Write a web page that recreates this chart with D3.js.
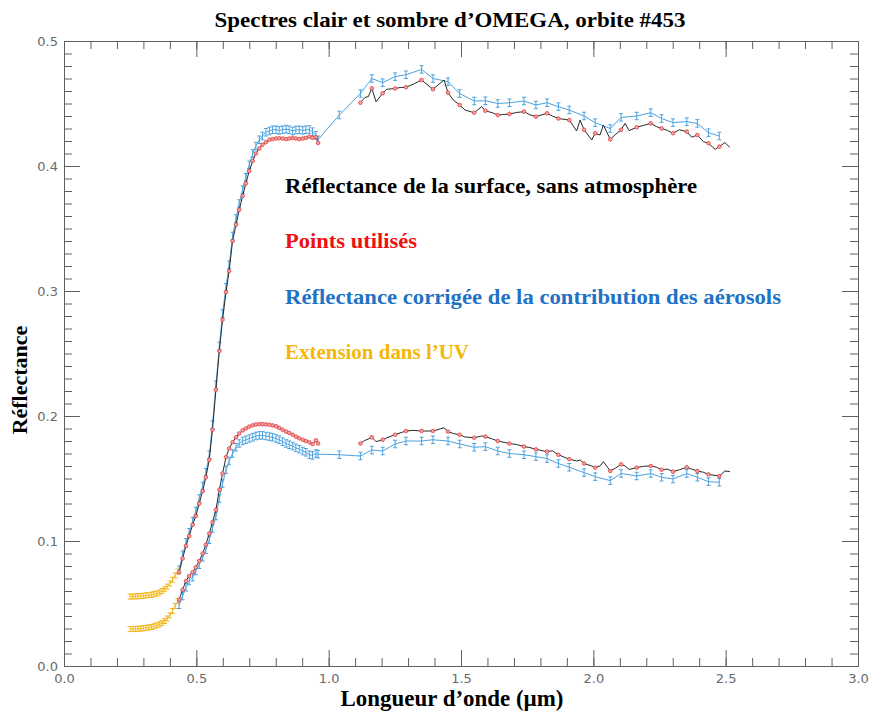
<!DOCTYPE html>
<html><head><meta charset="utf-8">
<script src="https://cdn.jsdelivr.net/npm/d3@7"></script>
<style>html,body{margin:0;padding:0;background:#fff;}</style>
</head><body>
<svg id="chart" width="871" height="713"></svg>
<script>
// ---------- data ----------
const titleText = "Spectres clair et sombre d’OMEGA, orbite #453";
const xLabel = "Longueur d’onde (µm)";
const yLabel = "Réflectance";
const legendLabels = ["Réflectance de la surface, sans atmosphère", "Points utilisés",
  "Réflectance corrigée de la contribution des aérosols", "Extension dans l’UV"];
const xTicks = [0, 0.5, 1.0, 1.5, 2.0, 2.5, 3.0];
const yTicks = [0, 0.1, 0.2, 0.3, 0.4, 0.5];

// UV extension
const uvWl = [0.25,0.26,0.27,0.28,0.29,0.30,0.31,0.32,0.33,0.34,0.35,0.36,0.37,0.38,0.39,0.40,0.41,0.42,0.43];
const uvBright = [0.0555,0.0556,0.0557,0.0558,0.056,0.0562,0.0565,0.0568,0.057,0.0575,0.058,0.0588,0.060,0.0615,0.0635,0.066,0.069,0.0725,0.0755];
const uvDark = [0.0295,0.0296,0.0297,0.0298,0.030,0.0302,0.0305,0.0308,0.0312,0.0318,0.0325,0.0333,0.0345,0.036,0.038,0.0405,0.044,0.048,0.052];
const uvErr = 0.002;

// visible channel
const visWl = [0.435,0.448,0.461,0.473,0.486,0.498,0.511,0.524,0.536,0.549,0.561,0.574,0.587,0.599,0.612,0.624,0.637,0.650,0.662,0.675,0.687,0.700,0.713,0.725,0.738,0.750,0.763,0.776,0.788,0.801,0.813,0.826,0.839,0.851,0.864,0.876,0.889,0.902,0.914,0.927,0.939,0.952,0.960];
const visBrightSurf = [0.075,0.086,0.096,0.104,0.113,0.120,0.130,0.140,0.151,0.165,0.189,0.221,0.252,0.277,0.299,0.316,0.340,0.353,0.365,0.376,0.386,0.396,0.404,0.410,0.414,0.417,0.419,0.421,0.4215,0.422,0.4222,0.422,0.4215,0.422,0.4225,0.422,0.4215,0.422,0.4225,0.4235,0.4225,0.423,0.4185];
const visBrightCorr = [0.077,0.089,0.099,0.107,0.116,0.124,0.134,0.144,0.155,0.169,0.193,0.225,0.256,0.282,0.303,0.321,0.344,0.358,0.370,0.381,0.391,0.401,0.410,0.416,0.421,0.424,0.427,0.428,0.429,0.429,0.4285,0.429,0.4295,0.429,0.428,0.4288,0.429,0.4285,0.429,0.4292,0.4275,0.4245,0.421];
const visDarkSurf = [0.053,0.061,0.068,0.072,0.075,0.079,0.084,0.090,0.097,0.106,0.115,0.125,0.141,0.154,0.167,0.174,0.179,0.183,0.186,0.1885,0.190,0.1915,0.1925,0.1932,0.1935,0.1935,0.1933,0.193,0.1925,0.1918,0.1905,0.189,0.1875,0.1865,0.185,0.1835,0.1822,0.181,0.180,0.179,0.1775,0.1805,0.178];
const visDarkCorr = [0.049,0.056,0.063,0.068,0.071,0.076,0.081,0.087,0.093,0.101,0.110,0.120,0.134,0.146,0.157,0.164,0.170,0.175,0.178,0.180,0.181,0.182,0.183,0.184,0.1845,0.1845,0.184,0.1835,0.183,0.182,0.181,0.1795,0.178,0.177,0.176,0.1745,0.1735,0.172,0.171,0.169,0.1685,0.170,0.1695];

// IR channel : points used
const irUsedWl = [1.120,1.163,1.204,1.251,1.292,1.351,1.394,1.451,1.495,1.550,1.592,1.639,1.683,1.738,1.783,1.825,1.868,1.909,1.965,2.007,2.064,2.105,2.164,2.217,2.258,2.301,2.353,2.393,2.435,2.476];
const irBrightUsed = [0.4506,0.4622,0.4582,0.462,0.463,0.4688,0.4614,0.4586,0.4488,0.4426,0.4442,0.4408,0.4416,0.4435,0.4395,0.4422,0.438,0.4368,0.429,0.4262,0.4213,0.429,0.431,0.4341,0.430,0.4262,0.4275,0.4248,0.4182,0.4155];
const irDarkUsed = [0.178,0.183,0.181,0.185,0.188,0.188,0.188,0.1875,0.185,0.1826,0.1835,0.180,0.178,0.1755,0.1733,0.1715,0.169,0.1655,0.162,0.1587,0.156,0.1613,0.1587,0.160,0.157,0.1555,0.159,0.156,0.1533,0.152];

// IR channel : corrected reflectance
const irCorrWl = [1.040,1.120,1.163,1.204,1.251,1.292,1.351,1.394,1.451,1.495,1.550,1.592,1.639,1.683,1.738,1.783,1.825,1.868,1.909,1.965,2.007,2.064,2.105,2.164,2.217,2.258,2.301,2.353,2.393,2.435,2.476];
const irBrightCorr = [0.4408,0.458,0.470,0.4667,0.4715,0.473,0.4773,0.470,0.4675,0.458,0.452,0.4522,0.450,0.4506,0.452,0.4488,0.4506,0.4475,0.4448,0.440,0.4347,0.430,0.4389,0.440,0.4427,0.438,0.4347,0.4355,0.4341,0.4267,0.424];
const irDarkCorr = [0.169,0.168,0.1728,0.172,0.1776,0.180,0.180,0.181,0.180,0.1776,0.175,0.1755,0.172,0.170,0.169,0.1675,0.166,0.162,0.159,0.1547,0.1515,0.1483,0.154,0.152,0.154,0.151,0.1496,0.154,0.151,0.1475,0.147];
const corrErr = 0.003;

// IR channel : full surface spectrum
const irSurfWl = [1.120,1.137,1.150,1.163,1.179,1.204,1.219,1.251,1.270,1.292,1.320,1.351,1.394,1.436,1.451,1.471,1.495,1.515,1.550,1.578,1.592,1.620,1.639,1.683,1.710,1.738,1.760,1.783,1.825,1.845,1.868,1.909,1.937,1.950,1.965,1.994,2.007,2.025,2.038,2.064,2.085,2.105,2.120,2.135,2.164,2.190,2.217,2.239,2.258,2.280,2.301,2.325,2.353,2.372,2.393,2.416,2.435,2.460,2.476,2.497,2.516];
const irBrightSurf = [0.4506,0.4549,0.4555,0.4622,0.4514,0.4582,0.4614,0.462,0.4628,0.463,0.4655,0.4688,0.4614,0.4688,0.4586,0.4528,0.4488,0.4448,0.4426,0.4475,0.4442,0.4425,0.4408,0.4416,0.4428,0.4435,0.4410,0.4395,0.4422,0.4400,0.438,0.4368,0.428,0.4368,0.429,0.4208,0.4262,0.4248,0.4328,0.4213,0.4255,0.429,0.4341,0.4283,0.431,0.4325,0.4341,0.4315,0.430,0.4285,0.4262,0.4290,0.4275,0.423,0.4248,0.4195,0.4182,0.4133,0.4155,0.4187,0.415];
const irDarkSurf = [0.178,0.1805,0.1815,0.183,0.1795,0.181,0.1825,0.185,0.1865,0.188,0.1885,0.188,0.188,0.1906,0.1875,0.186,0.185,0.1832,0.1826,0.1840,0.1835,0.1815,0.180,0.178,0.1772,0.1755,0.1748,0.1733,0.1715,0.1722,0.169,0.1655,0.1640,0.1648,0.162,0.1600,0.1587,0.1600,0.1635,0.156,0.1585,0.1613,0.1600,0.1573,0.1587,0.1598,0.160,0.1590,0.157,0.1575,0.1555,0.1570,0.159,0.1575,0.156,0.1550,0.1533,0.1525,0.152,0.1560,0.1555];

// ---------- drawing ----------
const W = 871, H = 713;
const M = {left: 64, right: 858, top: 41, bottom: 666};
const svg = d3.select("#chart");
svg.append("rect").attr("width", W).attr("height", H).attr("fill", "#fff");

const x = d3.scaleLinear().domain([0, 3]).range([M.left, M.right]);
const y = d3.scaleLinear().domain([0, 0.5]).range([M.bottom, M.top]);

const zip = (xs, ys) => xs.map((v, i) => [v, ys[i]]);
const line = d3.line().x(d => x(d[0])).y(d => y(d[1]));

const axisColor = "#606060";
const minorX = d3.range(0, 31).map(i => i / 10);
const minorY = d3.range(0, 51).map(i => i / 100);

function styleAxis(g) {
  g.selectAll("path,line").attr("stroke", axisColor).attr("stroke-width", 1);
  g.selectAll("text").attr("fill", "#6a6a6a").attr("font-family", "DejaVu Sans, sans-serif").attr("font-size", 13);
}
// bottom
svg.append("g").attr("transform", `translate(0,${M.bottom})`)
  .call(d3.axisBottom(x).tickValues(minorX).tickSize(-8).tickSizeOuter(0).tickFormat(""))
  .call(styleAxis);
svg.append("g").attr("transform", `translate(0,${M.bottom})`)
  .call(d3.axisBottom(x).tickValues(xTicks).tickSize(-16).tickSizeOuter(0).tickPadding(8).tickFormat(d3.format(".1f")))
  .call(styleAxis);
// top
svg.append("g").attr("transform", `translate(0,${M.top})`)
  .call(d3.axisTop(x).tickValues(minorX).tickSize(-8).tickSizeOuter(0).tickFormat(""))
  .call(styleAxis);
svg.append("g").attr("transform", `translate(0,${M.top})`)
  .call(d3.axisTop(x).tickValues(xTicks).tickSize(-16).tickSizeOuter(0).tickFormat(""))
  .call(styleAxis);
// left
svg.append("g").attr("transform", `translate(${M.left},0)`)
  .call(d3.axisLeft(y).tickValues(minorY).tickSize(-8).tickSizeOuter(0).tickFormat(""))
  .call(styleAxis);
svg.append("g").attr("transform", `translate(${M.left},0)`)
  .call(d3.axisLeft(y).tickValues(yTicks).tickSize(-16).tickSizeOuter(0).tickPadding(6).tickFormat(d3.format(".1f")))
  .call(styleAxis);
// right
svg.append("g").attr("transform", `translate(${M.right},0)`)
  .call(d3.axisRight(y).tickValues(minorY).tickSize(-8).tickSizeOuter(0).tickFormat(""))
  .call(styleAxis);
svg.append("g").attr("transform", `translate(${M.right},0)`)
  .call(d3.axisRight(y).tickValues(yTicks).tickSize(-16).tickSizeOuter(0).tickFormat(""))
  .call(styleAxis);

const plot = svg.append("g");

function errorSeries(pts, err, color, cap) {
  const g = plot.append("g");
  g.append("path").attr("d", line(pts)).attr("fill", "none").attr("stroke", color).attr("stroke-width", 1);
  const bars = g.selectAll("g.bar").data(pts).enter().append("g");
  bars.append("line").attr("x1", d => x(d[0])).attr("x2", d => x(d[0]))
    .attr("y1", d => y(d[1] - err)).attr("y2", d => y(d[1] + err))
    .attr("stroke", color).attr("stroke-width", 1);
  [1, -1].forEach(s => {
    bars.append("line").attr("x1", d => x(d[0]) - cap).attr("x2", d => x(d[0]) + cap)
      .attr("y1", d => y(d[1] + s * err)).attr("y2", d => y(d[1] + s * err))
      .attr("stroke", color).attr("stroke-width", 1);
  });
}

const yellow = "#f2b824";
const blue = "#4ba2e0";
errorSeries(zip(uvWl, uvBright), uvErr, yellow, 2.5);
errorSeries(zip(uvWl, uvDark), uvErr, yellow, 2.5);
errorSeries(zip(visWl, visBrightCorr).concat(zip(irCorrWl, irBrightCorr)), corrErr, blue, 2);
errorSeries(zip(visWl, visDarkCorr).concat(zip(irCorrWl, irDarkCorr)), corrErr, blue, 2);

// surface spectra (black)
[zip(visWl, visBrightSurf), zip(irSurfWl, irBrightSurf), zip(visWl, visDarkSurf), zip(irSurfWl, irDarkSurf)]
  .forEach(pts => plot.append("path").attr("d", line(pts)).attr("fill", "none")
    .attr("stroke", "#2a2a2a").attr("stroke-width", 1));

// points used (red)
const used = [].concat(zip(visWl, visBrightSurf), zip(irUsedWl, irBrightUsed),
                       zip(visWl, visDarkSurf), zip(irUsedWl, irDarkUsed));
plot.selectAll("circle.used").data(used).enter().append("circle")
  .attr("cx", d => x(d[0])).attr("cy", d => y(d[1])).attr("r", 1.8)
  .attr("fill", "#f3a3a3").attr("stroke", "#e03a3a").attr("stroke-width", 0.8);

// titles
const serif = "Liberation Serif, Times New Roman, serif";
svg.append("text").attr("x", 450).attr("y", 27).attr("text-anchor", "middle")
  .attr("font-family", serif).attr("font-weight", "bold").attr("font-size", 22)
  .attr("textLength", 471).attr("lengthAdjust", "spacingAndGlyphs").text(titleText);
svg.append("text").attr("x", 452).attr("y", 706).attr("text-anchor", "middle")
  .attr("font-family", serif).attr("font-weight", "bold").attr("font-size", 23)
  .attr("textLength", 223).attr("lengthAdjust", "spacingAndGlyphs").text(xLabel);
svg.append("text").attr("transform", "translate(27,380) rotate(-90)").attr("text-anchor", "middle")
  .attr("font-family", serif).attr("font-weight", "bold").attr("font-size", 22).text(yLabel);

// legend text
const legendColors = ["#000000", "#ee1111", "#1f72c4", "#f5b70a"];
const legendY = [193, 248, 304, 359];
const legendW = [412, 132, 496, 184];
legendLabels.forEach((t, i) => {
  svg.append("text").attr("x", 285).attr("y", legendY[i])
    .attr("font-family", serif).attr("font-weight", "bold").attr("font-size", 21)
    .attr("textLength", legendW[i]).attr("lengthAdjust", "spacingAndGlyphs")
    .attr("fill", legendColors[i]).text(t);
});
</script>
</body></html>
